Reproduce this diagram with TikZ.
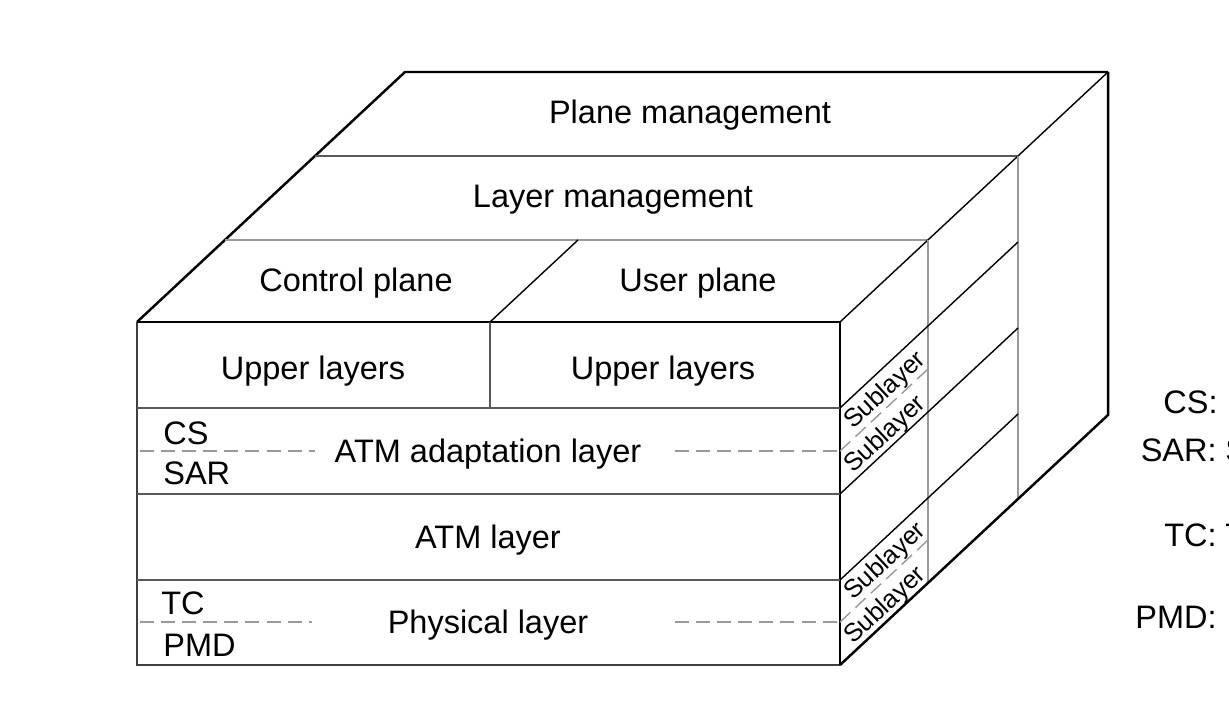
\documentclass[tikz,border=0pt]{standalone}
\usepackage{fontspec}
\setmainfont{Liberation Sans}
\usetikzlibrary{calc}

\begin{document}
\begin{tikzpicture}[x=0.02cm,y=-0.02cm,
    edge/.style={black,line width=1.4pt},
    inner/.style={black!65,line width=1.1pt},
    pale/.style={black!40,line width=1pt},
    thin/.style={black,line width=0.8pt},
    split/.style={black!40,dash pattern=on 8pt off 4pt,line width=1pt},
    lbl/.style={font=\fontsize{18.5}{22}\selectfont,inner sep=0pt,text height=13pt,text depth=0pt},
    sub/.style={font=\fontsize{14.5}{16}\selectfont,inner sep=0pt,text height=10.4pt,text depth=0pt,rotate=43}]
  \useasboundingbox (0,0) rectangle (1229,719);
  \begin{scope}
    % front face
    \draw[edge,black!75] (137,322) -- (137,665) -- (840,665);
    \draw[thin] (137,322) -- (840,322) -- (840,665);
    \foreach \y in {408,494,580}
      \draw[inner] (137,\y) -- (840,\y);
    \draw[inner] (490,322) -- (490,408);
    \draw[split] (140,451) -- (315,451) (675,451) -- (840,451);
    \draw[split] (140,622) -- (312,622) (675,622) -- (840,622);
    \node[lbl] (ul1) at (313,368) {Upper layers};
    \node[lbl] (ul2) at (663,368) {Upper layers};
    \node[lbl] (aal) at (488,451) {ATM adaptation layer};
    \node[lbl] (atm) at (488,537) {ATM layer};
    \node[lbl] (phy) at (488,622) {Physical layer};
    \node[lbl,anchor=west] (cs) at (163,433) {CS};
    \node[lbl,anchor=west] (sar) at (163,473) {SAR};
    \node[lbl,anchor=west] (tc) at (161,603) {TC};
    \node[lbl,anchor=west] (pmd) at (163,645) {PMD};
  \end{scope}
  \begin{scope}
    % top face
    \draw[edge] (137,322) -- (405,72) -- (1108,72);
    \draw[inner] (315,156) -- (1018,156);
    \draw[pale,line width=1.2pt] (225,240) -- (928,240);
    \draw[thin] (490,322) -- (578,240);
    \draw[thin] (840,322) -- (1108,72);
    \node[lbl] (pm) at (690,112) {Plane management};
    \node[lbl] (lm) at (613,196) {Layer management};
    \node[lbl] (cp) at (356,280) {Control plane};
    \node[lbl] (upl) at (698,280) {User plane};
  \end{scope}
  \begin{scope}
    % right face
    \draw[pale,line width=1.3pt] (928,240) -- (928,583) (1018,156) -- (1018,499);
    \draw[edge] (1108,72) -- (1108,415) -- (840,665);
    \foreach \y in {408,494,580}
      \draw[thin] (840,\y) -- ++(178,-166);
    \draw[split,line width=0.8pt] (840,451) -- ++(88,-82) (840,622) -- ++(88,-82);
    \node[sub] (s1) at (884,389) {Sublayer};
    \node[sub] (s2) at (884,433) {Sublayer};
    \node[sub] (s3) at (884,560) {Sublayer};
    \node[sub] (s4) at (884,604) {Sublayer};
  \end{scope}
  % abbreviations
  \node[lbl,anchor=east] (kcs) at (1218,402) {CS:};
  \node[lbl,anchor=east] (ksar) at (1217,450) {SAR:};
  \node[lbl,anchor=west] (ksar2) at (1225,450) {S};
  \node[lbl,anchor=east] (ktc) at (1217,535) {TC:};
  \node[lbl,anchor=west] (ktc2) at (1225,535) {T};
  \node[lbl,anchor=east] (kpmd) at (1217,617) {PMD:};
\end{tikzpicture}
\end{document}
